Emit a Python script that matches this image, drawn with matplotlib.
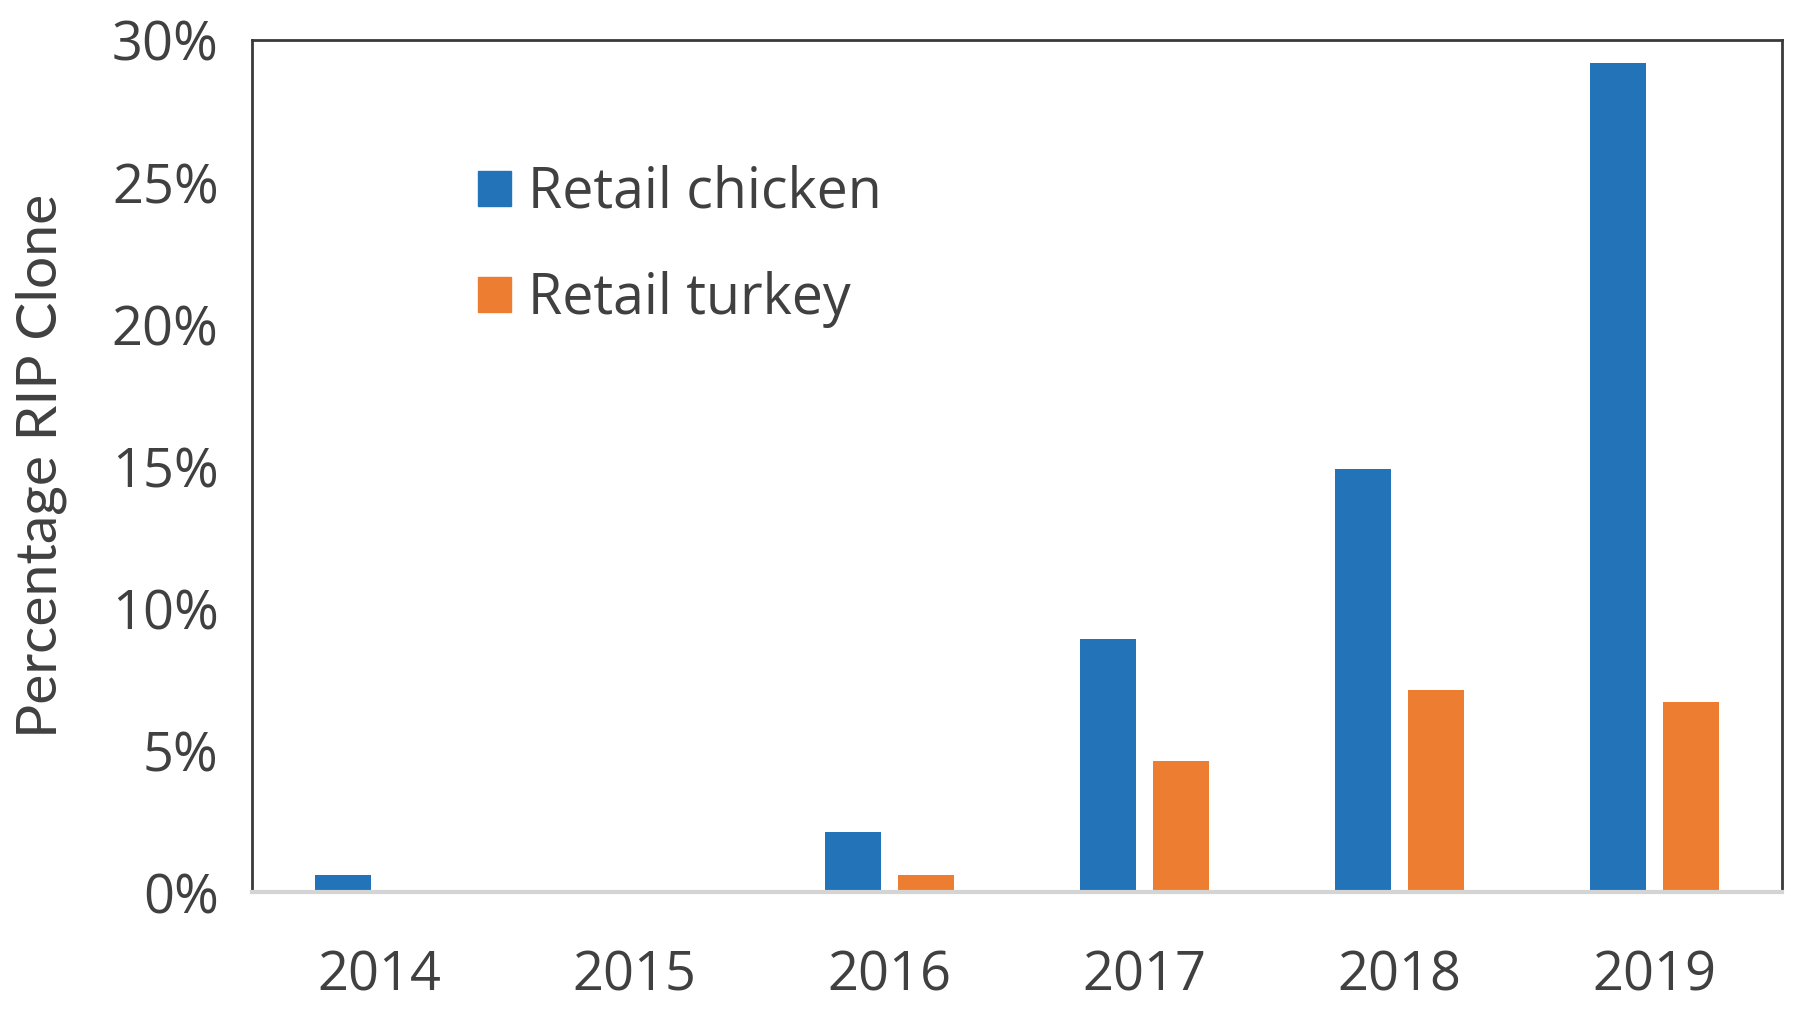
import numpy as np
import matplotlib
matplotlib.use('Agg')
import matplotlib.pyplot as plt
from matplotlib.ticker import PercentFormatter
from matplotlib.patches import Patch

#=========================================================================
# data
years = ['2014', '2015', '2016', '2017', '2018', '2019']
chicken_pct = [0.6, 0.0, 2.1, 8.9, 14.9, 29.2]
turkey_pct = [0.0, 0.0, 0.6, 4.6, 7.1, 6.7]
series_names = ['Retail chicken', 'Retail turkey']
y_ticks = [0, 5, 10, 15, 20, 25, 30]

#=========================================================================
blue = '#2373B9'
orange = '#ED7D31'
text_grey = '#404040'

plt.rcParams['font.family'] = ['Open Sans', 'DejaVu Sans']

fig = plt.figure(figsize=(18, 10.1), dpi=100)
ax = fig.add_axes([0.14, 0.1168, 0.85, 0.8436])

x = np.arange(len(years))
width = 0.22
offset = 0.142

ax.bar(x - offset, chicken_pct, width, color=blue, zorder=3)
ax.bar(x + offset, turkey_pct, width, color=orange, zorder=3)

ax.set_xlim(-0.5, len(years) - 0.5)
ax.set_ylim(0, 30)
ax.set_xticks(x)
ax.set_xticklabels(years)
ax.set_yticks(y_ticks)
ax.yaxis.set_major_formatter(PercentFormatter(decimals=0))
ax.tick_params(axis='both', length=0, labelsize=39, colors=text_grey)
ax.tick_params(axis='y', pad=24)
ax.tick_params(axis='x', pad=41)

for side in ['left', 'top', 'right']:
    ax.spines[side].set_color('#3a3a3a')
    ax.spines[side].set_linewidth(2)
ax.spines['bottom'].set_color('#d4d4d4')
ax.spines['bottom'].set_linewidth(3)
ax.spines['bottom'].set_zorder(4)

ax.set_ylabel('Percentage RIP Clone', fontsize=41, color=text_grey,
              family=['Lato', 'DejaVu Sans'])
ax.yaxis.set_label_coords(-0.121, 0.5)

handles = [Patch(color=blue), Patch(color=orange)]
ax.legend(handles, series_names, loc='upper left', bbox_to_anchor=(0.115, 0.912),
          frameon=False, fontsize=40, handlelength=0.6, handleheight=0.6,
          handletextpad=0.3, labelspacing=0.88, labelcolor=text_grey)

fig.savefig('out.png', dpi=100)
